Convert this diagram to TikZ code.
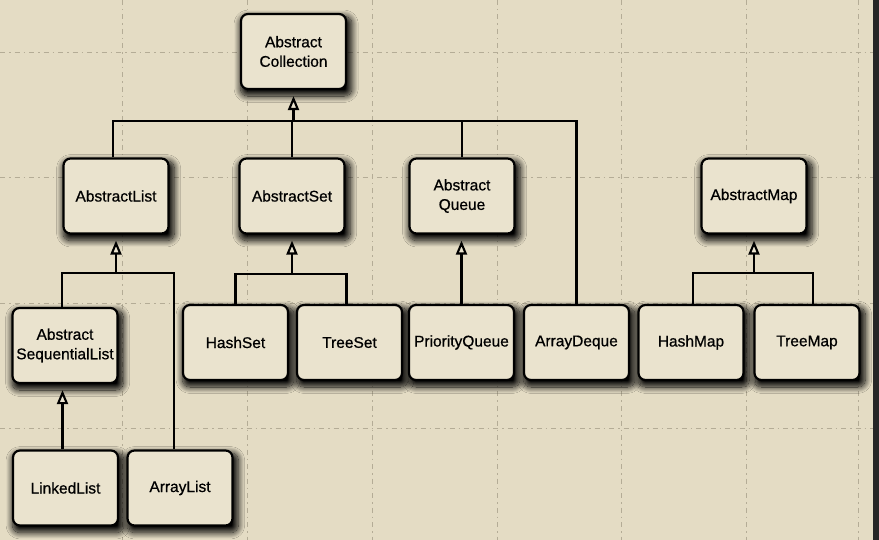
\documentclass[tikz,border=0pt]{standalone}
\usepackage{fontspec}
\setmainfont{Liberation Sans}
\newfontfamily\boxfont[BoldFont={Liberation Sans},BoldFeatures={FakeBold=0.7}]{Liberation Sans}
\usetikzlibrary{arrows.meta,shadows.blur}
\definecolor{bg}{HTML}{E4DCC4}
\definecolor{boxfill}{HTML}{EAE3CE}
\definecolor{gridc}{HTML}{B4AC96}
\begin{document}
\begin{tikzpicture}[x=1pt,y=-1pt,
  cls/.style={draw=black, line width=2.2pt, rounded corners=7pt, fill=boxfill,
    minimum width=105pt, minimum height=75pt, inner sep=2pt, align=center,
    font=\boxfont\bfseries\fontsize{15.5}{19.5}\selectfont,
    blur shadow={shadow xshift=2.5pt, shadow yshift=-4.5pt, shadow blur radius=6pt,
      shadow blur steps=16, shadow opacity=100, shadow scale=1.06}},
  conn/.style={draw=black, line width=2.1pt},
  inh/.style={conn, line join=miter, -{Triangle[width=11pt,length=14pt,fill=boxfill]}, shorten >=6pt},
  gridline/.style={draw=gridc, line width=0.7pt, dash pattern=on 5pt off 4pt on 1.5pt off 4pt}]
\fill[bg] (0,0) rectangle (879,540);
\useasboundingbox (0,0) rectangle (879,540);
% grid paper
\foreach \x in {122,247,372,497,621,746,858} \draw[gridline] (\x,0) -- (\x,540);
\foreach \y in {52,177,303,428} \draw[gridline] (0,\y) -- (873,\y);
% page edge
\fill[black!85] (873,0) rectangle (879,540);
% classes
\node[cls] (AC)  at (293.5,51.5) {Abstract\\Collection};
\node[cls] (AL)  at (116,196)   {AbstractList};
\node[cls] (AS)  at (292,196)   {AbstractSet};
\node[cls] (AQ)  at (462,196)   {Abstract\\Queue};
\node[cls] (AM)  at (754,196)   {AbstractMap};
\node[cls] (ASL) at (65,345.5)  {Abstract\\SequentialList};
\node[cls] (HS)  at (235.5,342.5) {HashSet};
\node[cls] (TS)  at (349.5,342.5) {TreeSet};
\node[cls] (PQ)  at (461.5,342.5) {PriorityQueue};
\node[cls] (AD)  at (576.5,342.5) {ArrayDeque};
\node[cls] (HM)  at (691,342.5)   {HashMap};
\node[cls] (TM)  at (807,342.5)   {TreeMap};
\node[cls] (LL)  at (65.5,488)  {LinkedList};
\node[cls] (AR)  at (180,488)   {ArrayList};
% AbstractCollection hierarchy
\coordinate (bAC) at (AC.south |- 0,121);
\draw[conn] ([xshift=-3pt]AL.north) |- (bAC) -| (AD.north);
\draw[conn] (AS.north) -- (AS.north |- bAC);
\draw[conn] (AQ.north) -- (AQ.north |- bAC);
\draw[inh] (bAC) -- (AC.south);
% AbstractList
\coordinate (bAL) at (AL.south |- 0,273);
\draw[conn] ([xshift=-3pt]ASL.north) |- (bAL) -| ([xshift=-6pt]AR.north);
\draw[inh] (bAL) -- (AL.south);
% AbstractSet
\coordinate (bAS) at (AS.south |- 0,274);
\draw[conn] (HS.north) |- (bAS) -| ([xshift=-3pt]TS.north);
\draw[inh] (bAS) -- (AS.south);
% AbstractQueue
\draw[inh] (PQ.north) -- (PQ.north |- AQ.south);
% AbstractMap
\coordinate (bAM) at (AM.south |- 0,273);
\draw[conn] ([xshift=2pt]HM.north) |- (bAM) -| ([xshift=6pt]TM.north);
\draw[inh] (bAM) -- (AM.south);
% AbstractSequentialList
\draw[inh] ([xshift=-3pt]LL.north) -- ([xshift=-3pt]LL.north |- ASL.south);
\end{tikzpicture}
\end{document}
